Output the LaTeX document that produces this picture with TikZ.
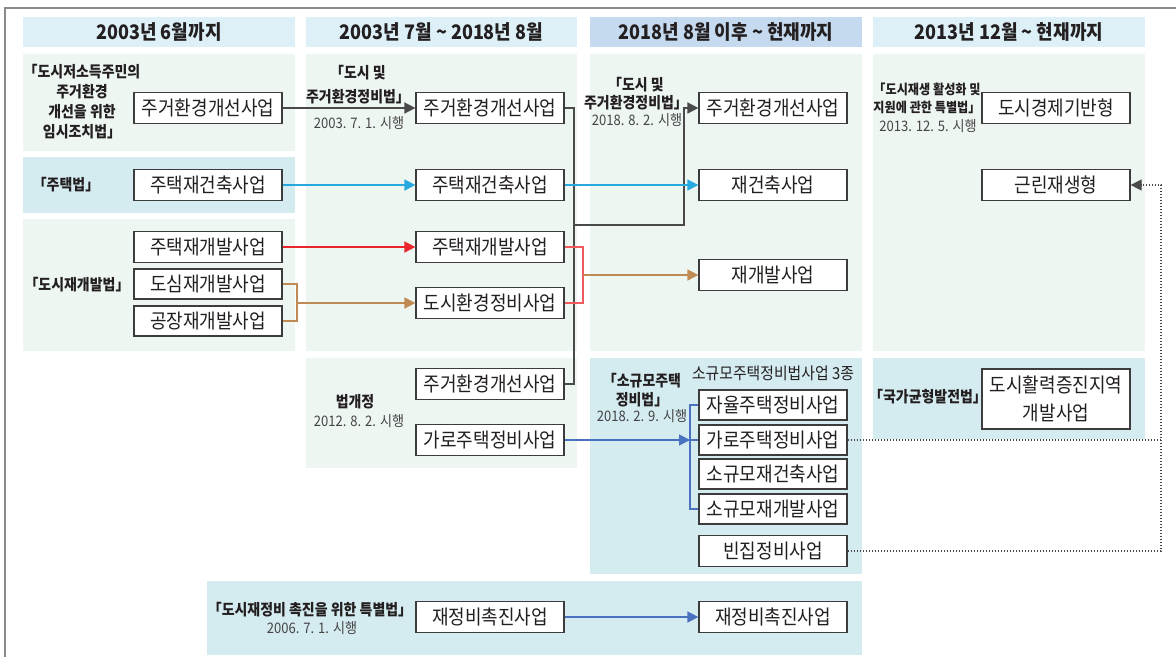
\documentclass[tikz,border=0pt]{standalone}
\usepackage{fontspec}
\setmainfont{Noto Sans CJK KR}[FakeStretch=0.9]
\usetikzlibrary{arrows.meta}
\definecolor{hdr}{HTML}{DDF0F8}
\definecolor{hdrdark}{HTML}{C5D9EF}
\definecolor{bggreen}{HTML}{EEF6F2}
\definecolor{bgblue}{HTML}{D4EBF0}
\definecolor{txt}{HTML}{231F20}
\definecolor{boxline}{HTML}{3C3C3C}
\definecolor{skyline}{HTML}{29A8E0}
\definecolor{redline}{HTML}{E8262B}
\definecolor{redlight}{HTML}{F05A5E}
\definecolor{brownline}{HTML}{C08A55}
\definecolor{blueline}{HTML}{4A70C0}
\definecolor{greyline}{HTML}{4A4A4A}
\definecolor{frameline}{HTML}{8A8A8A}
\definecolor{datetxt}{HTML}{444444}
\begin{document}
\begin{tikzpicture}[x=1pt,y=-1pt,
  hdrtext/.style={inner sep=0pt, text=txt, font=\fontsize{20}{22}\selectfont\bfseries},
  pbox/.style={draw=boxline, line width=1.2pt, fill=white, minimum width=148pt, minimum height=31pt, inner sep=0pt, text=txt, font=\fontsize{20}{22}\selectfont},
  law/.style={inner sep=0pt, text=txt, align=center, font=\fontsize{15.5}{20}\selectfont\bfseries},
  datetext/.style={inner sep=0pt, text=datetxt, font=\fontsize{14.5}{17}\selectfont},
  conn/.style={line width=1.6pt},
  tip/.style={-{Triangle[length=11pt,width=11pt]}},
  dotline/.style={line width=1.1pt, color=greyline, dash pattern=on 1.6pt off 1.4pt}
]
\useasboundingbox (0,0) rectangle (1176,657);
\fill[white] (0,0) rectangle (1176,657);
% frame
\draw[frameline, line width=1.3pt] (5,657) -- (5,8) -- (1176,8);
% headers
\fill[hdr] (23,17) rectangle (295,47);
\fill[hdr] (306,17) rectangle (577,47);
\fill[hdrdark] (590,17) rectangle (862,47);
\fill[hdr] (873,17) rectangle (1145,47);
\node[hdrtext] (h1) at (159,32) {2003년 6월까지};
\node[hdrtext] (h2) at (441.5,32) {2003년 7월 \textasciitilde{} 2018년 8월};
\node[hdrtext] (h3) at (726,32) {2018년 8월 이후 \textasciitilde{} 현재까지};
\node[hdrtext] (h4) at (1009,32) {2013년 12월 \textasciitilde{} 현재까지};
% backgrounds
\fill[bggreen] (23,54) rectangle (295,151);
\fill[bgblue] (23,157) rectangle (295,213);
\fill[bggreen] (23,219) rectangle (295,351);
\fill[bggreen] (306,54) rectangle (577,351);
\fill[bggreen] (306,358) rectangle (577,468);
\fill[bggreen] (590,54) rectangle (862,351);
\fill[bgblue] (590,358) rectangle (862,574);
\fill[bggreen] (873,54) rectangle (1145,351);
\fill[bgblue] (873,358) rectangle (1145,439);
\fill[bgblue] (207,581) rectangle (862,655);
% boxes col1
\node[pbox] (a1) at (208,108) {주거환경개선사업};
\node[pbox] (a2) at (208,185) {주택재건축사업};
\node[pbox] (a3) at (208,247) {주택재개발사업};
\node[pbox,minimum height=30pt] (a4) at (208,284) {도심재개발사업};
\node[pbox,minimum height=30pt] (a5) at (208,321) {공장재개발사업};
% col2
\node[pbox] (b1) at (490,108) {주거환경개선사업};
\node[pbox] (b2) at (490,185) {주택재건축사업};
\node[pbox] (b3) at (490,247) {주택재개발사업};
\node[pbox] (b4) at (490,303) {도시환경정비사업};
\node[pbox] (b5) at (490,384) {주거환경개선사업};
\node[pbox] (b6) at (490,440) {가로주택정비사업};
% col3
\node[pbox] (c1) at (773,108) {주거환경개선사업};
\node[pbox] (c2) at (773,185) {재건축사업};
\node[pbox] (c3) at (773,275) {재개발사업};
\node[pbox,minimum height=30pt] (c4) at (773,405) {자율주택정비사업};
\node[pbox,minimum height=30pt] (c5) at (773,440) {가로주택정비사업};
\node[pbox,minimum height=30pt] (c6) at (773,474) {소규모재건축사업};
\node[pbox,minimum height=30pt] (c7) at (773,509) {소규모재개발사업};
\node[pbox] (c8) at (773,551) {빈집정비사업};
% col4
\node[pbox] (d1) at (1056,108) {도시경제기반형};
\node[pbox] (d2) at (1056,185) {근린재생형};
\node[pbox,minimum height=60pt,align=center,font=\fontsize{20}{28}\selectfont] (d3) at (1056,399) {도시활력증진지역\\개발사업};
% bottom
\node[pbox] (e1) at (490,617) {재정비촉진사업};
\node[pbox] (e2) at (773,617) {재정비촉진사업};
% labels
\node[law] (la1) at (82,102) {「도시저소득주민의\\주거환경\\개선을 위한\\임시조치법」};
\node[law] (la2) at (66,185) {「주택법」};
\node[law] (la3) at (77,285) {「도시재개발법」};
\node[law,font=\fontsize{15.5}{24}\selectfont\bfseries] (lb1) at (358,85) {「도시 및\\주거환경정비법」};
\node[datetext] (db1) at (359,123) {2003. 7. 1. 시행};
\node[law] (lb2) at (355,402) {법개정};
\node[datetext] (db2) at (359,421) {2012. 8. 2. 시행};
\node[law,font=\fontsize{15.5}{18}\selectfont\bfseries] (lc1) at (636,94) {「도시 및\\주거환경정비법」};
\node[datetext] (dc1) at (637,120) {2018. 8. 2. 시행};
\node[law,font=\fontsize{15.5}{19}\selectfont\bfseries] (lc2) at (642,390) {「소규모주택\\정비법」};
\node[datetext] (dc2) at (642,416) {2018. 2. 9. 시행};
\node[inner sep=0pt,text=txt,font=\fontsize{16.5}{18}\selectfont] (lc3) at (773,373) {소규모주택정비법사업 3종};
\node[law,font=\fontsize{13.5}{18}\selectfont\bfseries] (ld1) at (927,98) {「도시재생 활성화 및\\지원에 관한 특별법」};
\node[datetext] (dd1) at (928,126) {2013. 12. 5. 시행};
\node[law] (ld2) at (928,397) {「국가균형발전법」};
\node[law] (le1) at (310,610) {「도시재정비 촉진을 위한 특별법」};
\node[datetext] (de1) at (312,628) {2006. 7. 1. 시행};
% connectors
\coordinate (gj) at (574,225);
\coordinate (gk) at (684,225);
\draw[conn, greyline] (b1.east) -| (gj) |- (b5.east);
\draw[conn, greyline, tip] (gj) -- (gk) |- (c1.west);
\draw[conn, greyline, tip] (a1.east) -- (b1.west);
\draw[conn, skyline, tip] (a2.east) -- (b2.west);
\draw[conn, skyline, tip] (b2.east) -- (c2.west);
\draw[conn, redline, tip] (a3.east) -- (b3.west);
\coordinate (bj) at (297,303);
\draw[conn, brownline] (a4.east) -| (bj) |- (a5.east);
\draw[conn, brownline, tip] (bj) -- (b4.west);
\coordinate (rj) at (583,275);
\draw[conn, redlight] (b3.east) -| (rj) |- (b4.east);
\draw[conn, brownline, tip] (rj) -- (c3.west);
\coordinate (bb) at (690,440);
\draw[conn, blueline] (c4.west) -| (bb) |- (c7.west);
\draw[conn, blueline] (bb) -- (c5.west);
\draw[conn, blueline, tip] (b6.east) -- (bb);
\coordinate (dj) at (1161,185);
\draw[dotline] (c5.east) -- (c5.east -| dj);
\draw[dotline, -{Triangle[length=11pt,width=11pt]}] (c8.east) -| (dj) -- (d2.east);
\draw[conn, blueline, tip] (e1.east) -- (e2.west);
\end{tikzpicture}
\end{document}
